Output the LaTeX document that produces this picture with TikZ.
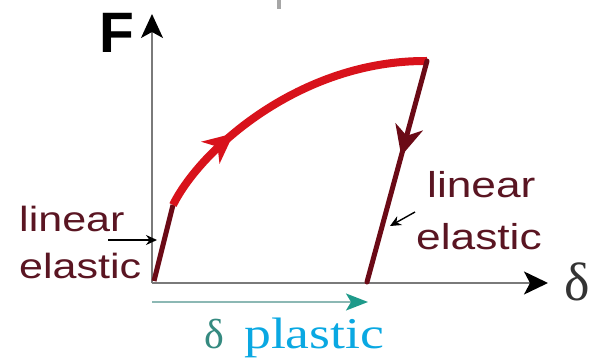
\documentclass[tikz,border=0pt]{standalone}
\usepackage{fontspec}
\setmainfont{Liberation Serif}
\newfontfamily\arialf{Liberation Sans}
\usetikzlibrary{arrows.meta,decorations.markings}
\definecolor{maroonc}{HTML}{6B0A16}
\definecolor{redc}{HTML}{D8121B}
\definecolor{textc}{HTML}{5A1522}
\definecolor{tealline}{HTML}{8CB8B4}
\definecolor{tealhead}{HTML}{1E9A8A}
\definecolor{tealtext}{HTML}{358A80}
\definecolor{bluetext}{HTML}{0AA8E2}
\definecolor{axisc}{HTML}{7A7A7A}
\begin{document}
\begin{tikzpicture}[x=1pt,y=-1pt,
  axis/.style={draw=axisc, line width=1.8pt},
  lbl/.style={anchor=base west, inner sep=0pt, text=textc, font=\arialf\fontsize{35}{35}\selectfont},
  pointer/.style={draw=black, line width=1.4pt, -{Stealth[length=11pt,width=10pt]}},
  elastic/.style={draw=maroonc, line width=5pt},
  plasticcurve/.style={draw=redc, line width=8pt},
  midarrow/.style={postaction={decorate}, decoration={markings, mark=at position #1 with {\arrow{Stealth[length=30pt,width=28pt,inset=9pt]}}}}
]
\useasboundingbox (0,0) rectangle (589,358);
% coordinates
\coordinate (O) at (152,283);
\coordinate (Ytop) at (152,14);
\coordinate (Xend) at (548,283);
\coordinate (A) at (154,281);
\coordinate (B) at (173,205);
\coordinate (C) at (427,61);
\coordinate (D) at (367,282);
\coordinate (T1) at (152,302);
\coordinate (T2) at (368,302);
\coordinate (L1) at (108,240);
\coordinate (L2) at (157,240);
\coordinate (R1) at (415,212);
\coordinate (R2) at (390,226);
\coordinate (M1) at (279,0);
\coordinate (M2) at (279,9);
% small mark at the top
\draw[draw=gray!70, line width=4pt] (M1) -- (M2);
% axes
\draw[axis, -{Stealth[length=24pt,width=22pt,inset=6pt,color=black]}] (O) -- (Ytop);
\draw[axis, -{Stealth[length=24pt,width=23pt,inset=6pt,color=black]}] (O) -- (Xend);
% teal plastic arrow
\draw[draw=tealline, line width=2pt, -{Stealth[length=22pt,width=17pt,inset=5pt,color=tealhead]}] (T1) -- (T2);
% loading: linear elastic part
\draw[elastic] (A) -- (B);
% plastic curve
\draw[plasticcurve, midarrow=0.31] (B) .. controls (200,150) and (300,60) .. (C);
% unloading
\draw[elastic, line cap=round, midarrow=0.43] (C) -- (D);
% pointers
\draw[pointer] (L1) -- (L2);
\draw[pointer] (R1) -- (R2);
% labels
\node[anchor=base west, inner sep=0pt, font=\arialf\bfseries\fontsize{57}{57}\selectfont] (F) at (99,53) {F};
\node[anchor=base west, inner sep=0pt, text=black!80, font=\fontsize{54}{54}\selectfont] (delta) at (564,300) {δ};
\node[lbl] (ll1) at (19,232) {\scalebox{1.23}[1]{linear}};
\node[lbl] (ll2) at (19,278) {\scalebox{1.23}[1]{elastic}};
\node[lbl, font=\arialf\fontsize{36}{36}\selectfont] (rl1) at (427,198) {\scalebox{1.23}[1]{linear}};
\node[lbl, font=\arialf\fontsize{36}{36}\selectfont] (rl2) at (416,250) {\scalebox{1.23}[1]{elastic}};
\node[anchor=base west, inner sep=0pt, text=tealtext, font=\fontsize{42}{42}\selectfont] (dp) at (204,348) {δ};
\node[anchor=base west, inner sep=0pt, text=bluetext, font=\fontsize{44}{44}\selectfont] (pl) at (244,348) {\scalebox{1.22}[1]{plastic}};
\end{tikzpicture}
\end{document}
